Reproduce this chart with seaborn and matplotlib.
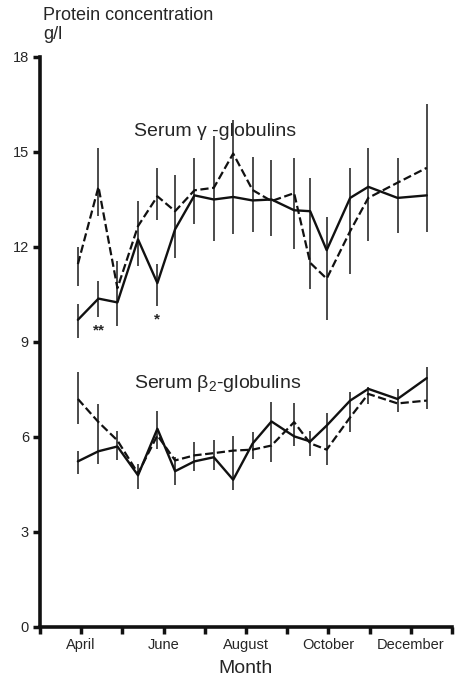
import numpy as np
import pandas as pd
import matplotlib
matplotlib.use("Agg")
import matplotlib.pyplot as plt
import seaborn as sns

# === Data ===
months = [3.92, 4.42, 4.88, 5.38, 5.85, 6.28, 6.75, 7.22, 7.69, 8.16,
          8.62, 9.17, 9.56, 9.96, 10.53, 10.97, 11.68, 12.39]

gamma_solid = [9.70, 10.37, 10.25, 12.24, 10.86, 12.56, 13.63, 13.50, 13.58, 13.47,
               13.50, 13.16, 13.13, 11.90, 13.55, 13.90, 13.55, 13.63]
gamma_dashed = [11.46, 13.90, 10.70, 12.66, 13.60, 13.13, 13.79, 13.87, 14.95, 13.80,
                13.45, 13.70, 11.50, 11.00, 12.50, 13.55, 14.03, 14.50]
# vertical bars (low, high); dashed-only bars where they are drawn apart
gamma_err_lo = [9.13, 9.80, 9.51, 11.40, 10.14, 11.66, 12.73, 12.20, 12.42, 12.46,
                12.35, 11.95, 10.67, 9.69, 11.14, 12.19, 12.43, 12.48]
gamma_err_hi = [10.20, 10.93, 11.56, 13.45, 11.46, 14.27, 14.81, 15.50, 16.02, 14.83,
                14.76, 14.81, 14.18, 12.94, 14.50, 15.13, 14.81, 16.53]
gamma_dash_err_lo = [10.77, 12.98, np.nan, np.nan, 12.84] + [np.nan] * 13
gamma_dash_err_hi = [12.00, 15.13, np.nan, np.nan, 14.50] + [np.nan] * 13

beta_solid = [5.23, 5.55, 5.70, 4.79, 6.26, 4.92, 5.23, 5.36, 4.65, 5.79,
              6.49, 6.02, 5.86, 6.36, 7.15, 7.52, 7.20, 7.86]
beta_dashed = [7.20, 6.47, 5.89, 4.85, 6.05, 5.26, 5.42, 5.49, 5.57, 5.60,
               5.73, 6.47, 5.80, 5.60, 6.62, 7.36, 7.06, 7.15]
beta_err_lo = [4.84, 5.16, 5.26, 4.37, 5.63, 4.47, 4.94, 4.97, 4.34, 5.31,
               5.21, 5.70, 5.40, 5.13, 6.15, 7.05, 6.78, 6.89]
beta_err_hi = [5.57, 7.05, 6.18, 5.16, 6.81, 5.36, 5.84, 5.89, 6.02, 6.15,
               7.10, 7.08, 6.20, 6.75, 7.41, 7.57, 7.52, 8.20]
beta_dash_err_lo = [6.42] + [np.nan] * 17
beta_dash_err_hi = [8.04] + [np.nan] * 17

star_points = {1: "**", 4: "*"}

month_ticks = list(range(3, 14))
month_labels = ["", "April", "", "June", "", "August", "", "October", "", "December", ""]
y_ticks = [0, 3, 6, 9, 12, 15, 18]

# === Style ===
sns.set_style("ticks")
plt.rcParams["font.family"] = ["Liberation Sans", "DejaVu Sans"]
plt.rcParams["mathtext.fontset"] = "custom"
plt.rcParams["mathtext.rm"] = "Liberation Sans"
plt.rcParams["mathtext.it"] = "Liberation Sans"

fig = plt.figure(figsize=(4.56, 6.85), dpi=100)
ax = fig.add_axes([0.0877, 0.0847, 0.9033, 0.8321])

df = pd.DataFrame({
    "month": months,
    "gamma_solid": gamma_solid, "gamma_dashed": gamma_dashed,
    "beta_solid": beta_solid, "beta_dashed": beta_dashed,
})

bar_kw = dict(color="#1a1a1a", lw=1.1)
for lo, hi in [(gamma_err_lo, gamma_err_hi), (gamma_dash_err_lo, gamma_dash_err_hi),
               (beta_err_lo, beta_err_hi), (beta_dash_err_lo, beta_dash_err_hi)]:
    lo = np.array(lo, dtype=float)
    hi = np.array(hi, dtype=float)
    ok = ~np.isnan(lo)
    ax.vlines(np.array(months)[ok], lo[ok], hi[ok], **bar_kw)

for col in ["gamma_solid", "beta_solid"]:
    sns.lineplot(data=df, x="month", y=col, ax=ax, color="#111111", lw=1.7)
for col in ["gamma_dashed", "beta_dashed"]:
    sns.lineplot(data=df, x="month", y=col, ax=ax, color="#111111", lw=1.6,
                 dashes=(3.8, 2.6), linestyle="--")

# significance marks under the solid gamma line
for i, s in star_points.items():
    ax.text(months[i], gamma_err_lo[i] - 0.2, s, ha="center", va="top",
            fontsize=11, fontweight="bold")

ax.text(5.28, 15.65, "Serum \u03b3 -globulins", fontsize=14, va="center")
ax.text(5.28, 7.7, "Serum \u03b2$_2$-globulins", fontsize=14, va="center")

ax.set_xlim(3, 13)
ax.set_ylim(0, 18)
ax.set_xticks(month_ticks)
ax.set_xticklabels(month_labels, fontsize=10.5)
ax.set_yticks(y_ticks)
ax.set_yticklabels([str(v) for v in y_ticks], fontsize=10.5)
ax.set_xlabel("Month", fontsize=14, labelpad=6)
ax.set_ylabel("")
ax.tick_params(axis="both", length=5, width=2.5, color="#111111", pad=3)
for side in ["left", "bottom"]:
    ax.spines[side].set_linewidth(2.6)
    ax.spines[side].set_color("#111111")
sns.despine(ax=ax)

fig.text(0.094, 0.99, "Protein concentration", fontsize=13, va="top")
fig.text(0.094, 0.962, "g/l", fontsize=13, va="top")

fig.savefig("out.png", dpi=100)
